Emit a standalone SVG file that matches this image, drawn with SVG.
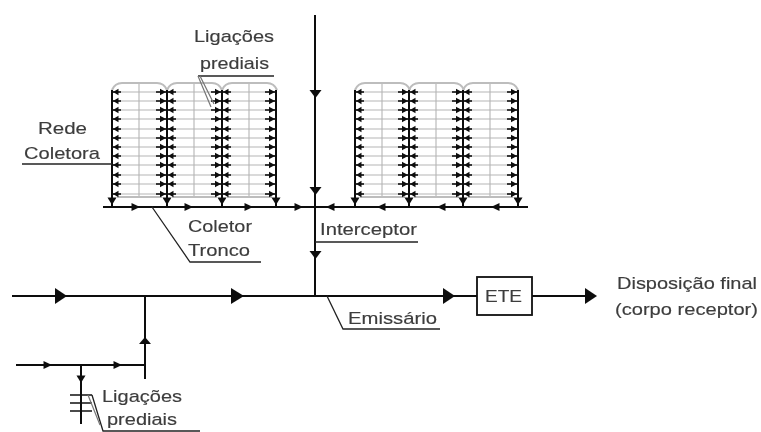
<svg xmlns="http://www.w3.org/2000/svg" width="761" height="432" viewBox="0 0 761 432">
<style>
text{font-family:"Liberation Sans",Arial,sans-serif;font-size:17px;fill:#3c3c3c;stroke:#3c3c3c;stroke-width:.15}
.l{fill:none;stroke:#111;stroke-width:2}
.t{fill:none;stroke:#111;stroke-width:1.6}
.g{fill:none;stroke:#b5b5b5;stroke-width:1.1}
.gb{fill:none;stroke:#bdbdbd;stroke-width:2.2}
.a{fill:#111}
.u{fill:none;stroke:#222;stroke-width:1.3}
.d{fill:none;stroke:#777;stroke-width:1.2}
</style>
<defs>
<filter id="b" x="-5%" y="-5%" width="110%" height="110%"><feGaussianBlur stdDeviation="0.45"/></filter>
<g id="tr"><path class="t" d="M0 0H9"/><path class="a" d="M1 0L6.500 -3.200V3.200Z"/></g>
<g id="tl"><path class="t" d="M0 0H-11"/><path class="a" d="M-1 0L-7 -3.200V3.200Z"/></g>
<g id="cr"><use href="#tr" y="92"/><use href="#tr" y="101"/><use href="#tr" y="110"/><use href="#tr" y="119"/><use href="#tr" y="129"/><use href="#tr" y="138"/><use href="#tr" y="147"/><use href="#tr" y="156"/><use href="#tr" y="165"/><use href="#tr" y="175"/><use href="#tr" y="184"/><use href="#tr" y="194"/></g>
<g id="cl"><use href="#tl" y="92"/><use href="#tl" y="101"/><use href="#tl" y="110"/><use href="#tl" y="119"/><use href="#tl" y="129"/><use href="#tl" y="138"/><use href="#tl" y="147"/><use href="#tl" y="156"/><use href="#tl" y="165"/><use href="#tl" y="175"/><use href="#tl" y="184"/><use href="#tl" y="194"/></g>
<g id="hg"><path class="g" d="M0 92H55M0 101H55M0 110H55M0 119H55M0 129H55M0 138H55M0 147H55M0 156H55M0 165H55M0 175H55M0 184H55M0 194H55M27 83V197"/><path class="gb" d="M0 90Q3 83 10 83H45Q52 83 55 90M5 197H50"/></g>
<path id="ad" class="a" d="M-4.500 -3.500H4.500L0 4Z"/>
<path id="ar" class="a" d="M-3.500 -4L5 0L-3.500 4Z"/>
<path id="al" class="a" d="M3.500 -4L-5 0L3.500 4Z"/>
</defs>
<g filter="url(#b)">
<g id="connectors">
<path class="l" d="M315 15V296"/>
<path class="l" d="M103 207H528"/>
<path class="l" d="M12 296H477"/>
<path class="l" d="M532 296H586"/>
<path class="l" d="M145 296V379"/>
<path class="l" d="M16 365H145"/>
<path class="l" d="M81 365V424"/>
<path class="a" d="M309.500 90H321.500L315.500 98Z"/>
<path class="a" d="M309.500 187H321.500L315.500 195Z"/>
<path class="a" d="M309.500 251H321.500L315.500 259Z"/>
<path class="a" d="M55 288L67 296L55 304Z"/>
<path class="a" d="M231 288L244 296L231 304Z"/>
<path class="a" d="M443 288L455 296L443 304Z"/>
<path class="a" d="M585 288L597 296L585 304Z"/>
<path class="a" d="M139 344L145 337L151 344Z"/>
<use href="#ar" x="47" y="365"/><use href="#ar" x="117" y="365"/>
<use href="#ad" x="81" y="379"/>
<use href="#ar" x="135" y="207"/><use href="#ar" x="188" y="207"/><use href="#ar" x="248" y="207"/><use href="#ar" x="298" y="207"/>
<use href="#al" x="331" y="207"/><use href="#al" x="382" y="207"/><use href="#al" x="442" y="207"/><use href="#al" x="496" y="207"/>
<path class="t" d="M70 395H92M70 403H92M70 411H92"/>
</g>
<g id="rede-esquerda">
<use href="#hg" x="112"/><use href="#hg" x="167"/><use href="#hg" x="222"/>
<path class="l" d="M112 90V206M167 90V206M222 90V206M276 90V206"/>
<use href="#cr" x="112"/><use href="#cr" x="167"/><use href="#cl" x="167"/><use href="#cr" x="222"/><use href="#cl" x="222"/><use href="#cl" x="276"/>
<use href="#ad" x="112" y="201"/><use href="#ad" x="167" y="201"/><use href="#ad" x="222" y="201"/><use href="#ad" x="276" y="201"/>
</g>
<g id="rede-direita">
<use href="#hg" x="355"/><use href="#hg" x="409"/><use href="#hg" x="463"/>
<path class="l" d="M355 90V206M409 90V206M463 90V206M518 90V206"/>
<use href="#cr" x="355"/><use href="#cr" x="409"/><use href="#cl" x="409"/><use href="#cr" x="463"/><use href="#cl" x="463"/><use href="#cl" x="518"/>
<use href="#ad" x="355" y="201"/><use href="#ad" x="409" y="201"/><use href="#ad" x="463" y="201"/><use href="#ad" x="518" y="201"/>
</g>
<g id="ete">
<rect x="477" y="277" width="55" height="38" fill="#fff" stroke="#111" stroke-width="1.8"/>
<text x="485" y="302" textLength="37" lengthAdjust="spacingAndGlyphs">ETE</text>
</g>
<g id="label-ligacoes-superior">
<text x="194" y="42" textLength="80" lengthAdjust="spacingAndGlyphs">Ligações</text>
<text x="200" y="69" textLength="69" lengthAdjust="spacingAndGlyphs">prediais</text>
<path class="u" d="M198 76H274"/>
<path class="d" d="M198 76L211 107M200 76L214 104"/>
</g>
<g id="label-rede">
<text x="38" y="134" textLength="49" lengthAdjust="spacingAndGlyphs">Rede</text>
<text x="24" y="159" textLength="76" lengthAdjust="spacingAndGlyphs">Coletora</text>
<path class="u" d="M22 164H112"/>
</g>
<g id="label-coletor">
<text x="188" y="232" textLength="64" lengthAdjust="spacingAndGlyphs">Coletor</text>
<text x="188" y="256" textLength="62" lengthAdjust="spacingAndGlyphs">Tronco</text>
<path class="u" d="M152 207L190 262H261"/>
</g>
<g id="label-interceptor">
<text x="320" y="235" textLength="97" lengthAdjust="spacingAndGlyphs">Interceptor</text>
<path class="u" d="M315 242H418"/>
</g>
<g id="label-emissario">
<text x="348" y="324" textLength="89" lengthAdjust="spacingAndGlyphs">Emissário</text>
<path class="u" d="M327 296L343 329H440"/>
</g>
<g id="label-ligacoes-inferior">
<text x="102" y="402" textLength="80" lengthAdjust="spacingAndGlyphs">Ligações</text>
<text x="107" y="425" textLength="70" lengthAdjust="spacingAndGlyphs">prediais</text>
<path class="u" d="M92 395L103 431H200"/>
<path class="d" d="M88 395L100 425"/>
</g>
<g id="label-disposicao">
<text x="617" y="289" textLength="140" lengthAdjust="spacingAndGlyphs">Disposição final</text>
<text x="615" y="315" textLength="143" lengthAdjust="spacingAndGlyphs">(corpo receptor)</text>
</g>
</g>
</svg>
